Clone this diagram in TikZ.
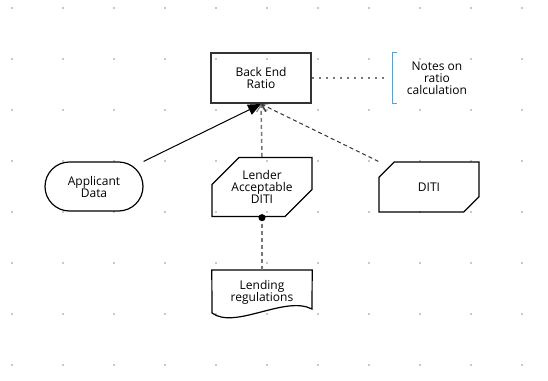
\documentclass[tikz,border=0pt]{standalone}
\usepackage{fontspec}
\setmainfont{Open Sans}
\usetikzlibrary{arrows.meta,shapes.misc,calc}

\definecolor{gridgray}{HTML}{C8C8C8}
\definecolor{edgegray}{HTML}{333333}
\definecolor{linkgray}{HTML}{777777}
\definecolor{noteblue}{HTML}{5AA0D0}

\tikzset{
  lbl/.style={font=\fontsize{12}{12}\selectfont},
  box/.style={draw=edgegray, line width=2pt, minimum width=100pt, minimum height=50pt,
    inner sep=0pt, align=center, lbl},
  terminal/.style={draw, rounded rectangle, line width=1.2pt, minimum width=98pt,
    minimum height=49pt, inner sep=0pt, align=center, lbl},
  store/.style={draw, chamfered rectangle, chamfered rectangle corners={north west,south east},
    chamfered rectangle xsep=14pt, chamfered rectangle ysep=13pt, line width=1.2pt,
    minimum width=100pt, minimum height=50pt, inner sep=0pt, align=center, lbl},
  plain/.style={minimum width=100pt, minimum height=50pt, inner sep=0pt, align=center, lbl},
  flow/.style={line width=1pt, -{Triangle[length=13pt,width=11pt]}},
  infl/.style={line width=1.5pt, linkgray, dash pattern=on 4pt off 3pt,
    -{Straight Barb[length=7pt,width=9pt,line width=1pt]}},
}

\begin{document}
\begin{tikzpicture}[x=1pt,y=-1pt]
\useasboundingbox (0,0) rectangle (548,380);

% Grid dots
\foreach \i in {0,...,10}
  \foreach \j in {0,...,7}
    \fill[gridgray] ({12+51*\i-1},{8+51*\j-1}) rectangle ++(2,2);

% Nodes
\node[box] (bera) at (261,78) {Back End\\Ratio};
\node[plain, minimum width=88pt] (note) at (437,78) {Notes on\\ratio\\calculation};
\node[terminal] (appl) at (94,186.5) {Applicant\\Data};
\node[store] (lender) at (262,187) {Lender\\Acceptable\\DITI};
\node[store] (diti) at (429,187) {DITI};
\node[plain] (lendreg) at (262,292) {Lending\\regulations};

% Document shape
\draw[line width=1.2pt] (212,313) -- (lendreg.north west |- 0,270)
  -- (lendreg.north east |- 0,270) -- (312,309)
  .. controls (285,295) and (235,330) .. (212,313);

% Note bracket
\draw[noteblue, line width=1.2pt] ($(note.north west)+(4,0)$) -- (note.north west)
  -- (note.south west) -- ++(4,0);

% Connectors
\draw[linkgray, line width=1.2pt, dash pattern=on 1.5pt off 5.5pt, shorten >=7pt]
  (bera.east) -- (note.west);
\draw[flow] (appl.east |- appl.north) -- (bera.south);
\draw[infl] (lender.north) -- (bera.south);
\draw[infl, edgegray, line width=1pt] (diti.west |- diti.north) -- (bera.south);
\draw[linkgray, line width=1.5pt, dash pattern=on 4pt off 3pt,
  -{Circle[length=7pt,black]}, shorten >=-3pt] (262,270) -- (lender.south);
\end{tikzpicture}
\end{document}
